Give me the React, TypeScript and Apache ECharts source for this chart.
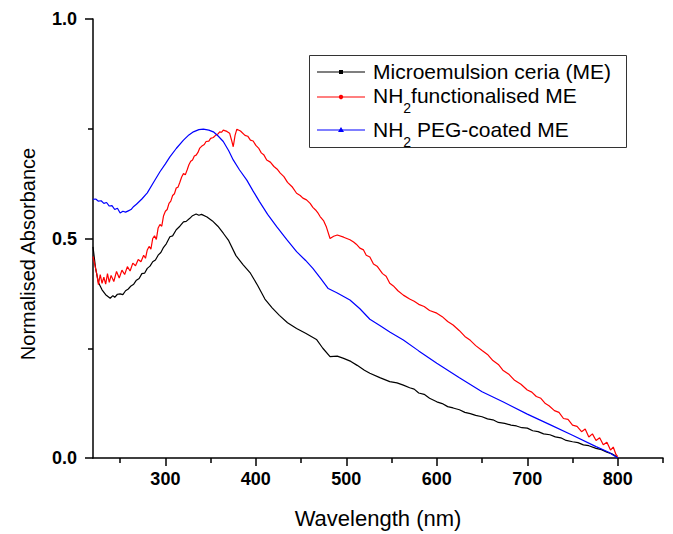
import React, { useEffect, useRef } from "react";
import * as echarts from "echarts";

// ---- data ----
const meWl = [220, 223, 226, 230, 234, 239, 242, 244, 247, 250, 253, 256, 259, 262, 265, 268, 271, 274, 277, 280, 283, 286, 289, 292, 295, 298, 301, 305, 308, 312, 316, 320, 323, 327, 330, 334, 337, 340, 346, 352, 358, 364, 370, 378, 386, 394, 402, 410, 418, 426, 435, 445, 455, 467, 474, 482, 490, 497, 505, 512, 520, 526, 537, 548, 556, 563, 570, 575, 580, 586, 592, 600, 606, 612, 618, 625, 631, 637, 643, 650, 656, 662, 668, 675, 682, 688, 694, 700, 706, 712, 718, 725, 731, 737, 743, 750, 756, 762, 768, 776, 782, 788, 793, 798, 800];
const meVal = [0.481, 0.43, 0.4, 0.383, 0.372, 0.364, 0.37, 0.366, 0.373, 0.374, 0.372, 0.381, 0.385, 0.392, 0.396, 0.405, 0.409, 0.42, 0.421, 0.432, 0.437, 0.447, 0.451, 0.462, 0.468, 0.48, 0.488, 0.504, 0.506, 0.52, 0.528, 0.538, 0.539, 0.546, 0.552, 0.556, 0.553, 0.555, 0.549, 0.54, 0.528, 0.512, 0.495, 0.461, 0.44, 0.421, 0.393, 0.362, 0.342, 0.325, 0.308, 0.295, 0.284, 0.27, 0.25, 0.231, 0.232, 0.227, 0.22, 0.211, 0.2, 0.193, 0.183, 0.174, 0.171, 0.166, 0.16, 0.157, 0.148, 0.145, 0.136, 0.128, 0.124, 0.117, 0.114, 0.11, 0.104, 0.101, 0.097, 0.094, 0.089, 0.087, 0.081, 0.079, 0.075, 0.073, 0.069, 0.068, 0.062, 0.06, 0.055, 0.053, 0.048, 0.046, 0.04, 0.037, 0.035, 0.03, 0.028, 0.022, 0.019, 0.013, 0.01, 0.004, 0.0];

const nh2Wl = [220, 222, 224, 226, 228, 230, 232, 234, 236, 238, 240, 243, 246, 249, 252, 255, 258, 261, 264, 267, 270, 273, 276, 278, 280, 282, 284, 286, 288, 290, 292, 294, 296, 298, 300, 302, 304, 306, 308, 310, 312, 314, 316, 318, 320, 322, 324, 326, 328, 330, 332, 334, 336, 338, 340, 343, 345, 348, 350, 353, 356, 358, 360, 362, 364, 368, 371, 373, 375, 377, 379, 383, 388, 391, 394, 397, 400, 403, 406, 409, 412, 416, 420, 424, 427, 431, 435, 440, 445, 449, 452, 456, 460, 463, 466, 469, 471, 475, 478, 482, 486, 490, 497, 504, 508, 511, 515, 519, 522, 526, 530, 534, 540, 544, 548, 552, 557, 563, 570, 575, 580, 586, 592, 600, 606, 612, 618, 625, 631, 637, 643, 650, 656, 662, 668, 673, 680, 686, 693, 700, 705, 710, 715, 720, 724, 730, 735, 740, 745, 750, 755, 760, 764, 768, 772, 776, 780, 784, 788, 792, 795, 798, 800];
const nh2Val = [0.459, 0.44, 0.421, 0.395, 0.418, 0.398, 0.412, 0.396, 0.42, 0.4, 0.416, 0.402, 0.425, 0.41, 0.428, 0.418, 0.436, 0.426, 0.444, 0.438, 0.452, 0.447, 0.462, 0.455, 0.474, 0.482, 0.476, 0.5, 0.506, 0.498, 0.524, 0.532, 0.528, 0.552, 0.562, 0.566, 0.58, 0.585, 0.598, 0.602, 0.615, 0.617, 0.628, 0.64, 0.648, 0.645, 0.656, 0.668, 0.676, 0.679, 0.688, 0.69, 0.696, 0.706, 0.71, 0.714, 0.721, 0.722, 0.728, 0.73, 0.736, 0.738, 0.743, 0.742, 0.747, 0.744, 0.74, 0.725, 0.709, 0.735, 0.749, 0.745, 0.735, 0.733, 0.724, 0.722, 0.712, 0.706, 0.695, 0.69, 0.679, 0.674, 0.664, 0.657, 0.649, 0.641, 0.628, 0.618, 0.603, 0.598, 0.592, 0.588, 0.58, 0.571, 0.565, 0.557, 0.55, 0.54, 0.526, 0.5, 0.505, 0.508, 0.503, 0.497, 0.492, 0.487, 0.478, 0.474, 0.462, 0.458, 0.442, 0.437, 0.42, 0.414, 0.398, 0.392, 0.381, 0.371, 0.362, 0.357, 0.35, 0.345, 0.336, 0.33, 0.322, 0.311, 0.303, 0.29, 0.277, 0.268, 0.256, 0.245, 0.236, 0.222, 0.213, 0.2, 0.19, 0.177, 0.168, 0.155, 0.15, 0.14, 0.136, 0.124, 0.119, 0.108, 0.104, 0.09, 0.088, 0.075, 0.072, 0.06, 0.066, 0.048, 0.055, 0.04, 0.046, 0.03, 0.036, 0.018, 0.025, 0.008, 0.003];

const pegWl = [220, 223, 226, 229, 232, 235, 238, 241, 244, 247, 250, 253, 256, 259, 262, 265, 268, 274, 280, 287, 294, 300, 305, 312, 320, 326, 331, 337, 342, 348, 353, 358, 364, 370, 375, 382, 390, 397, 404, 413, 423, 434, 445, 455, 463, 472, 480, 490, 504, 515, 526, 537, 548, 563, 580, 600, 625, 650, 673, 700, 725, 750, 776, 790, 800];
const pegVal = [0.589, 0.59, 0.585, 0.586, 0.58, 0.582, 0.574, 0.575, 0.566, 0.569, 0.558, 0.562, 0.56, 0.563, 0.566, 0.573, 0.578, 0.59, 0.604, 0.628, 0.652, 0.67, 0.686, 0.705, 0.724, 0.736, 0.743, 0.748, 0.749, 0.747, 0.743, 0.734, 0.721, 0.7, 0.679, 0.656, 0.633, 0.608, 0.584, 0.555, 0.527, 0.498, 0.47, 0.45, 0.432, 0.408, 0.386, 0.376, 0.36, 0.34, 0.316, 0.302, 0.287, 0.269, 0.244, 0.216, 0.183, 0.151, 0.128, 0.1, 0.076, 0.052, 0.026, 0.013, 0.0];

const xMajorTicks = [300, 400, 500, 600, 700, 800];
const xMinorTicks = [250, 350, 450, 550, 650, 750, 850];

const FONT = "Liberation Sans, Arial, sans-serif";

const pairs = (xs: number[], ys: number[]) => xs.map((x, i) => [x, ys[i]]);

export default function App() {
  const ref = useRef<HTMLDivElement>(null);
  useEffect(() => {
    if (!ref.current) return;
    const chart = echarts.init(ref.current, undefined, { renderer: "svg" });
    const axisLine = { show: true, lineStyle: { color: "#000", width: 1.5 } };
    const legendRows = [
      { color: "#000000", text: "Microemulsion ceria (ME)", y: 72, textTop: 60.5, marker: "square" },
      { color: "#ff0000", text: "NH{sub|2}functionalised ME", y: 97, textTop: 85, marker: "circle" },
      { color: "#0000ff", text: "NH{sub|2} PEG-coated ME", y: 130, textTop: 118.5, marker: "triangle" },
    ];
    const legendGraphics: any[] = [
      {
        type: "rect",
        shape: { x: 309.5, y: 55.5, width: 317, height: 92 },
        style: { fill: "#fff", stroke: "#333", lineWidth: 1 },
        z: 10,
      },
    ];
    legendRows.forEach((r) => {
      legendGraphics.push({
        type: "line",
        shape: { x1: 317, y1: r.y, x2: 365, y2: r.y },
        style: { stroke: r.color, lineWidth: 1.2 },
        z: 11,
      });
      if (r.marker === "square") {
        legendGraphics.push({ type: "rect", shape: { x: 339, y: r.y - 2, width: 4, height: 4 }, style: { fill: r.color }, z: 12 });
      } else if (r.marker === "circle") {
        legendGraphics.push({ type: "circle", shape: { cx: 341, cy: r.y, r: 2.2 }, style: { fill: r.color }, z: 12 });
      } else {
        legendGraphics.push({
          type: "polygon",
          shape: { points: [[341, r.y - 3], [338, r.y + 2], [344, r.y + 2]] },
          style: { fill: r.color },
          z: 12,
        });
      }
      legendGraphics.push({
        type: "text",
        x: 373,
        y: r.textTop,
        z: 12,
        style: {
          text: r.text,
          fill: "#000",
          fontFamily: FONT,
          fontSize: 21,
          lineHeight: 21,
          verticalAlign: "top",
          align: "left",
          rich: {
            sub: { fontSize: 14, lineHeight: 14, fontFamily: FONT, fill: "#000", padding: [16, 0, 0, 0], verticalAlign: "top" },
          },
        },
      });
    });

    chart.setOption({
      animation: false,
      backgroundColor: "#fff",
      grid: { left: 93, right: 10, top: 19, bottom: 76, containLabel: false },
      xAxis: [
        {
          type: "value",
          min: 220,
          max: 850,
          position: "bottom",
          axisLine,
          axisTick: { show: true, customValues: xMajorTicks, length: 8, lineStyle: { color: "#000", width: 1.5 } },
          axisLabel: {
            customValues: xMajorTicks,
            color: "#000",
            fontWeight: "bold",
            fontSize: 18,
            fontFamily: FONT,
            margin: 12,
          },
          splitLine: { show: false },
        },
        {
          type: "value",
          min: 220,
          max: 850,
          position: "bottom",
          axisLine: { show: false },
          axisTick: { show: true, customValues: xMinorTicks, length: 5, lineStyle: { color: "#000", width: 1.5 } },
          axisLabel: { show: false },
          splitLine: { show: false },
        },
      ],
      yAxis: {
        type: "value",
        min: 0,
        max: 1,
        interval: 0.5,
        axisLine,
        axisTick: { show: true, length: 8, lineStyle: { color: "#000", width: 1.5 } },
        minorTick: { show: true, splitNumber: 2, length: 5, lineStyle: { color: "#000", width: 1.5 } },
        axisLabel: {
          color: "#000",
          fontWeight: "bold",
          fontSize: 18,
          fontFamily: FONT,
          margin: 16,
          formatter: (v: number) => v.toFixed(1),
        },
        splitLine: { show: false },
        minorSplitLine: { show: false },
      },
      series: [
        { name: "Microemulsion ceria (ME)", type: "line", data: pairs(meWl, meVal), showSymbol: false, lineStyle: { color: "#000000", width: 1.2 }, itemStyle: { color: "#000000" } },
        { name: "NH2 functionalised ME", type: "line", data: pairs(nh2Wl, nh2Val), showSymbol: false, lineStyle: { color: "#ff0000", width: 1.2 }, itemStyle: { color: "#ff0000" } },
        { name: "NH2 PEG-coated ME", type: "line", data: pairs(pegWl, pegVal), showSymbol: false, lineStyle: { color: "#0000ff", width: 1.2 }, itemStyle: { color: "#0000ff" } },
      ],
      graphic: [
        ...legendGraphics,
        {
          type: "text",
          x: 378,
          y: 518,
          style: { text: "Wavelength (nm)", fill: "#000", fontFamily: FONT, fontSize: 22, align: "center", verticalAlign: "middle" },
        },
        {
          type: "text",
          x: 28,
          y: 254,
          rotation: Math.PI / 2,
          style: { text: "Normalised Absorbance", fill: "#000", fontFamily: FONT, fontSize: 20, align: "center", verticalAlign: "middle" },
        },
      ],
    });
    return () => chart.dispose();
  }, []);
  return <div ref={ref} style={{ position: "absolute", left: 0, top: 0, width: 673, height: 534 }} />;
}
